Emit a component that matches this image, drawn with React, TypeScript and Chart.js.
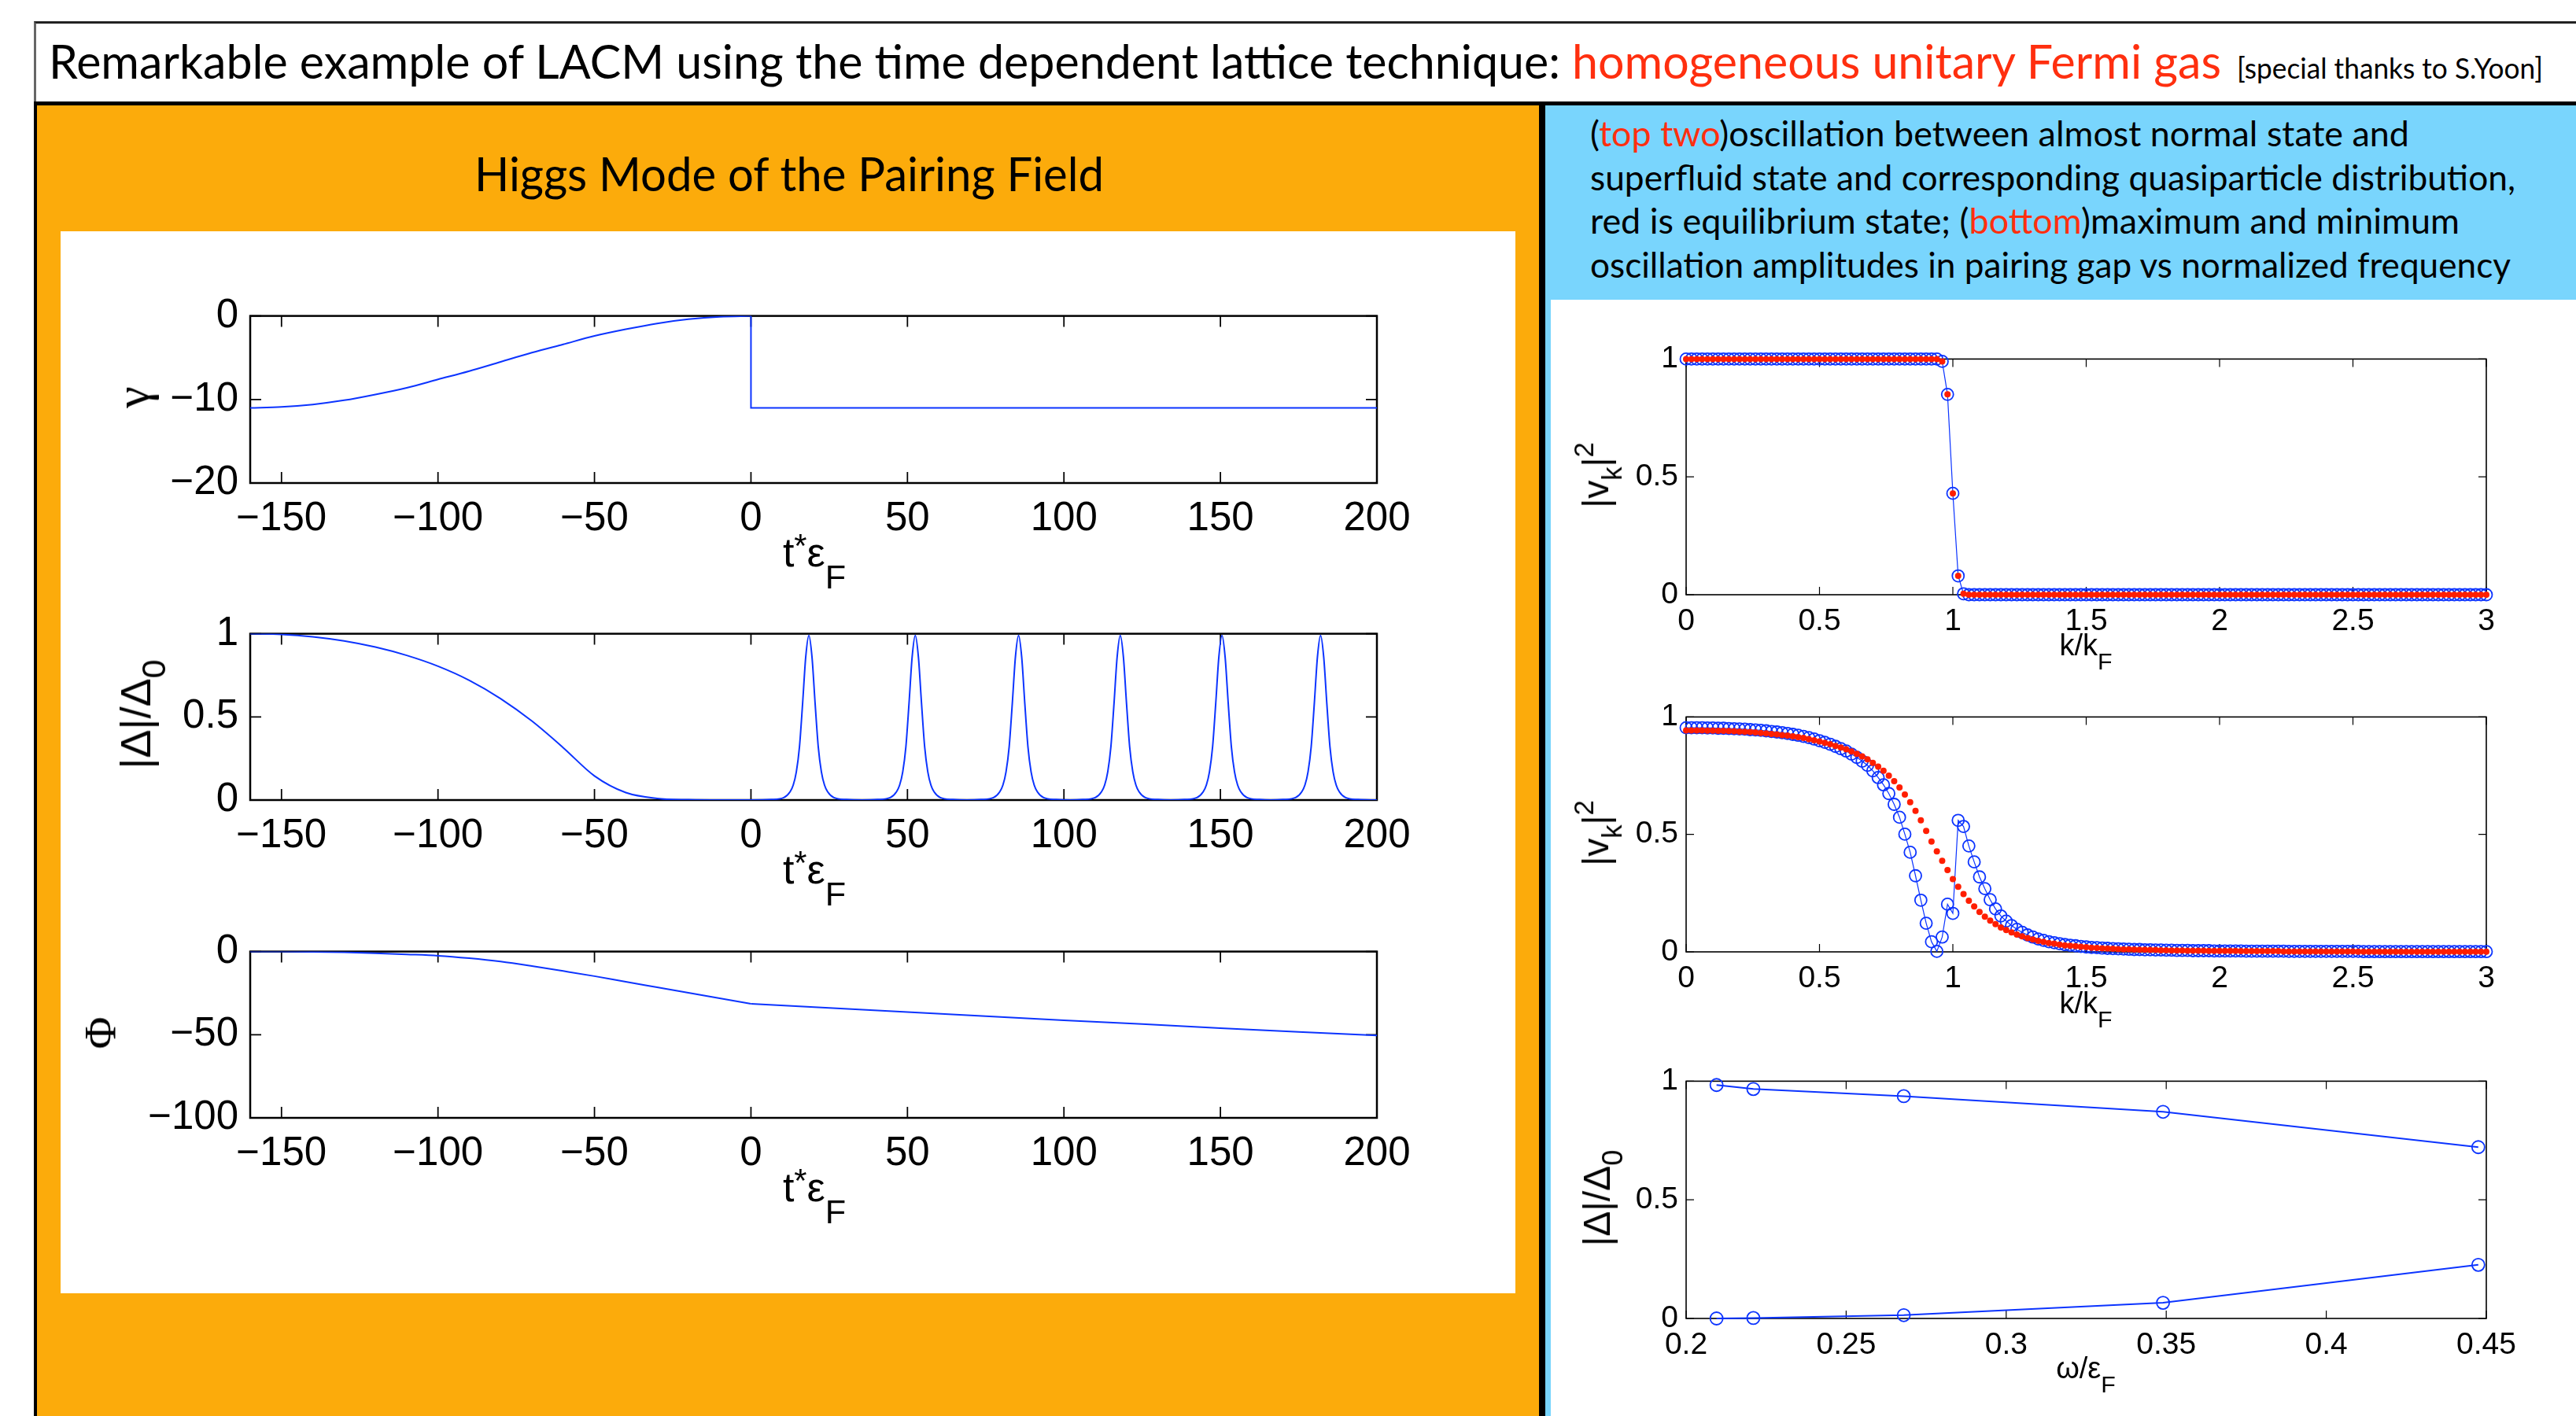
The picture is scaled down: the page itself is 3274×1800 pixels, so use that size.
import React, { useEffect, useLayoutEffect, useRef } from 'react';
import { Chart, registerables } from 'chart.js';
Chart.register(...registerables);

// ---------------- data ----------------
const T_TICKS = [-150, -100, -50, 0, 50, 100, 150, 200];

const GAMMA_T = [-160, -150, -140, -130, -120, -110, -100, -90, -80, -70, -60, -50, -40, -30, -20, -10, 0];
const GAMMA_V = [-11, -10.9, -10.6, -10.1, -9.4, -8.6, -7.6, -6.6, -5.5, -4.4, -3.4, -2.4, -1.6, -0.9, -0.4, -0.1, 0];
const GAMMA_JUMP_T = [0, 0, 200];
const GAMMA_JUMP_V = [0, -11, -11];
const GAMMA_TICKS = [-20, -10, 0];

const DELTA_T = [
  -160, -150, -140, -130, -120, -110, -100, -90, -80, -70, -60, -50, -40, -30, -20, -10, 0,
  6.5, 10.5, 12.5, 13.5, 14.5, 15.5, 16.5, 17.5, 18.5, 19.5, 20.5, 21.5, 22.5, 23.5, 24.5, 26.5, 30.5,
  35.5,
  40.5, 44.5, 46.5, 47.5, 48.5, 49.5, 50.5, 51.5, 52.5, 53.5, 54.5, 55.5, 56.5, 57.5, 58.5, 60.5, 64.5,
  69,
  73.5, 77.5, 79.5, 80.5, 81.5, 82.5, 83.5, 84.5, 85.5, 86.5, 87.5, 88.5, 89.5, 90.5, 91.5, 93.5, 97.5,
  102,
  106, 110, 112, 113, 114, 115, 116, 117, 118, 119, 120, 121, 122, 123, 124, 126, 130,
  134,
  138.5, 142.5, 144.5, 145.5, 146.5, 147.5, 148.5, 149.5, 150.5, 151.5, 152.5, 153.5, 154.5, 155.5, 156.5, 158.5, 162.5,
  166,
  170, 174, 176, 177, 178, 179, 180, 181, 182, 183, 184, 185, 186, 187, 188, 190, 194,
  200,
];
const DELTA_V = [
  1, 0.996, 0.982, 0.957, 0.92, 0.87, 0.805, 0.72, 0.61, 0.475, 0.315, 0.145, 0.045, 0.01, 0.002, 0, 0,
  0.003, 0.015, 0.05, 0.09, 0.17, 0.32, 0.58, 0.86, 0.99, 0.86, 0.58, 0.32, 0.17, 0.09, 0.05, 0.015, 0.003,
  0,
  0.003, 0.015, 0.05, 0.09, 0.17, 0.32, 0.58, 0.86, 0.99, 0.86, 0.58, 0.32, 0.17, 0.09, 0.05, 0.015, 0.003,
  0,
  0.003, 0.015, 0.05, 0.09, 0.17, 0.32, 0.58, 0.86, 0.99, 0.86, 0.58, 0.32, 0.17, 0.09, 0.05, 0.015, 0.003,
  0,
  0.003, 0.015, 0.05, 0.09, 0.17, 0.32, 0.58, 0.86, 0.99, 0.86, 0.58, 0.32, 0.17, 0.09, 0.05, 0.015, 0.003,
  0,
  0.003, 0.015, 0.05, 0.09, 0.17, 0.32, 0.58, 0.86, 0.99, 0.86, 0.58, 0.32, 0.17, 0.09, 0.05, 0.015, 0.003,
  0,
  0.003, 0.015, 0.05, 0.09, 0.17, 0.32, 0.58, 0.86, 0.99, 0.86, 0.58, 0.32, 0.17, 0.09, 0.05, 0.015, 0.003,
  0,
];
const DELTA_TICKS = [0, 0.5, 1];

const PHI_PRE_T = [-160, -150, -140, -130, -120, -110, -100, -90, -80, -70, -60, -50, -40, -30, -20, -10, 0];
const PHI_PRE_V = [0, 0, -0.15, -0.45, -1.0, -1.7, -2.5, -4.0, -6.0, -8.7, -11.7, -14.8, -18.2, -21.5, -24.8, -28.1, -31.4];
const PHI_POST_T = [0, 25, 50, 75, 100, 125, 150, 175, 200];
const PHI_POST_V = [-31.4, -33.9, -36.4, -38.9, -41.3, -43.6, -46.1, -48.3, -50.5];
const PHI_TICKS = [-100, -50, 0];

const K = [
  0, 0.02, 0.04, 0.06, 0.08, 0.1, 0.12, 0.14, 0.16, 0.18,
  0.2, 0.22, 0.24, 0.26, 0.28, 0.3, 0.32, 0.34, 0.36, 0.38,
  0.4, 0.42, 0.44, 0.46, 0.48, 0.5, 0.52, 0.54, 0.56, 0.58,
  0.6, 0.62, 0.64, 0.66, 0.68, 0.7, 0.72, 0.74, 0.76, 0.78,
  0.8, 0.82, 0.84, 0.86, 0.88, 0.9, 0.92, 0.94, 0.96, 0.98,
  1, 1.02, 1.04, 1.06, 1.08, 1.1, 1.12, 1.14, 1.16, 1.18,
  1.2, 1.22, 1.24, 1.26, 1.28, 1.3, 1.32, 1.34, 1.36, 1.38,
  1.4, 1.42, 1.44, 1.46, 1.48, 1.5, 1.52, 1.54, 1.56, 1.58,
  1.6, 1.62, 1.64, 1.66, 1.68, 1.7, 1.72, 1.74, 1.76, 1.78,
  1.8, 1.82, 1.84, 1.86, 1.88, 1.9, 1.92, 1.94, 1.96, 1.98,
  2, 2.02, 2.04, 2.06, 2.08, 2.1, 2.12, 2.14, 2.16, 2.18,
  2.2, 2.22, 2.24, 2.26, 2.28, 2.3, 2.32, 2.34, 2.36, 2.38,
  2.4, 2.42, 2.44, 2.46, 2.48, 2.5, 2.52, 2.54, 2.56, 2.58,
  2.6, 2.62, 2.64, 2.66, 2.68, 2.7, 2.72, 2.74, 2.76, 2.78,
  2.8, 2.82, 2.84, 2.86, 2.88, 2.9, 2.92, 2.94, 2.96, 2.98,
  3,
];
const V_TOP = [
  1, 1, 1, 1, 1, 1, 1, 1, 1, 1,
  1, 1, 1, 1, 1, 1, 1, 1, 1, 1,
  1, 1, 1, 1, 1, 1, 1, 1, 1, 1,
  1, 1, 1, 1, 1, 1, 1, 1, 1, 1,
  1, 1, 1, 1, 1, 1, 1, 1, 0.99, 0.85,
  0.43, 0.08, 0.004, 0, 0, 0, 0, 0, 0, 0,
  0, 0, 0, 0, 0, 0, 0, 0, 0, 0,
  0, 0, 0, 0, 0, 0, 0, 0, 0, 0,
  0, 0, 0, 0, 0, 0, 0, 0, 0, 0,
  0, 0, 0, 0, 0, 0, 0, 0, 0, 0,
  0, 0, 0, 0, 0, 0, 0, 0, 0, 0,
  0, 0, 0, 0, 0, 0, 0, 0, 0, 0,
  0, 0, 0, 0, 0, 0, 0, 0, 0, 0,
  0, 0, 0, 0, 0, 0, 0, 0, 0, 0,
  0, 0, 0, 0, 0, 0, 0, 0, 0, 0,
  0,
];
const V_MID = [
  0.954, 0.954, 0.954, 0.954, 0.953, 0.953, 0.952, 0.952, 0.951, 0.95,
  0.949, 0.948, 0.946, 0.945, 0.943, 0.941, 0.938, 0.936, 0.933, 0.93,
  0.926, 0.922, 0.917, 0.912, 0.906, 0.899, 0.892, 0.884, 0.875, 0.865,
  0.855, 0.842, 0.828, 0.812, 0.794, 0.771, 0.742, 0.711, 0.674, 0.628,
  0.573, 0.501, 0.424, 0.324, 0.22, 0.122, 0.043, 0.002, 0.063, 0.203,
  0.164, 0.56, 0.534, 0.451, 0.383, 0.319, 0.269, 0.222, 0.183, 0.153,
  0.131, 0.112, 0.096, 0.083, 0.072, 0.063, 0.055, 0.049, 0.043, 0.039,
  0.035, 0.031, 0.028, 0.026, 0.023, 0.021, 0.019, 0.018, 0.016, 0.015,
  0.014, 0.013, 0.012, 0.011, 0.01, 0.01, 0.009, 0.009, 0.008, 0.008,
  0.007, 0.007, 0.006, 0.006, 0.006, 0.005, 0.005, 0.005, 0.005, 0.004,
  0.004, 0.004, 0.004, 0.004, 0.004, 0.003, 0.003, 0.003, 0.003, 0.003,
  0.003, 0.003, 0.003, 0.002, 0.002, 0.002, 0.002, 0.002, 0.002, 0.002,
  0.002, 0.002, 0.002, 0.002, 0.002, 0.002, 0.002, 0.001, 0.001, 0.001,
  0.001, 0.001, 0.001, 0.001, 0.001, 0.001, 0.001, 0.001, 0.001, 0.001,
  0.001, 0.001, 0.001, 0.001, 0.001, 0.001, 0.001, 0.001, 0.001, 0.001,
  0.001,
];
const V_MID_EQ = [
  0.943, 0.943, 0.943, 0.943, 0.942, 0.942, 0.941, 0.941, 0.94, 0.939,
  0.938, 0.937, 0.936, 0.934, 0.932, 0.93, 0.928, 0.926, 0.923, 0.921,
  0.918, 0.914, 0.911, 0.906, 0.901, 0.896, 0.89, 0.884, 0.877, 0.87,
  0.862, 0.853, 0.843, 0.832, 0.82, 0.805, 0.789, 0.771, 0.75, 0.727,
  0.7, 0.67, 0.637, 0.6, 0.56, 0.515, 0.47, 0.428, 0.388, 0.348,
  0.31, 0.277, 0.246, 0.218, 0.193, 0.17, 0.15, 0.133, 0.118, 0.104,
  0.093, 0.083, 0.074, 0.066, 0.059, 0.053, 0.047, 0.043, 0.038, 0.035,
  0.031, 0.028, 0.026, 0.024, 0.022, 0.02, 0.018, 0.017, 0.015, 0.014,
  0.013, 0.012, 0.011, 0.011, 0.01, 0.009, 0.009, 0.008, 0.008, 0.007,
  0.007, 0.006, 0.006, 0.006, 0.005, 0.005, 0.005, 0.005, 0.004, 0.004,
  0.004, 0.004, 0.004, 0.004, 0.003, 0.003, 0.003, 0.003, 0.003, 0.003,
  0.003, 0.003, 0.002, 0.002, 0.002, 0.002, 0.002, 0.002, 0.002, 0.002,
  0.002, 0.002, 0.002, 0.002, 0.002, 0.002, 0.001, 0.001, 0.001, 0.001,
  0.001, 0.001, 0.001, 0.001, 0.001, 0.001, 0.001, 0.001, 0.001, 0.001,
  0.001, 0.001, 0.001, 0.001, 0.001, 0.001, 0.001, 0.001, 0.001, 0.001,
  0.001,
];
const K_TICKS = [0, 0.5, 1, 1.5, 2, 2.5, 3];
const V_TICKS = [0, 0.5, 1];

const OMEGA = [0.2095, 0.221, 0.268, 0.349, 0.4475];
const AMP_MAX = [0.984, 0.967, 0.937, 0.871, 0.722];
const AMP_MIN = [0.0, 0.002, 0.014, 0.066, 0.226];
const OMEGA_TICKS = [0.2, 0.25, 0.3, 0.35, 0.4, 0.45];

// ---------------- styles ----------------
const BLUE = 'rgb(12,52,255)';
const RED = 'rgb(255,30,0)';
const ORANGE = '#FCAB0B';
const SKY = '#79D5FD';
const TXT_RED = '#FF2F0F';
const SANS = '"Liberation Sans", Arial, sans-serif';
const SERIF = '"Liberation Serif", "DejaVu Serif", serif';
const GILL = 'Lato, "Open Sans", sans-serif';

const xy = (xs: number[], ys: number[]) => xs.map((x, i) => ({ x, y: ys[i] }));

const boxPlugin = {
  id: 'mbox',
  beforeDatasetsDraw(chart: any, _a: any, o: any) {
    const { ctx, chartArea: a, scales } = chart;
    ctx.save();
    ctx.strokeStyle = '#000';
    ctx.lineWidth = o.lw;
    ctx.strokeRect(a.left, a.top, a.right - a.left, a.bottom - a.top);
    ctx.lineWidth = o.tw;
    ctx.beginPath();
    for (const v of o.xTicks) {
      const p = scales.x.getPixelForValue(v);
      ctx.moveTo(p, a.bottom); ctx.lineTo(p, a.bottom - o.tl);
      ctx.moveTo(p, a.top); ctx.lineTo(p, a.top + o.tl);
    }
    for (const v of o.yTicks) {
      const p = scales.y.getPixelForValue(v);
      ctx.moveTo(a.left, p); ctx.lineTo(a.left + o.tl, p);
      ctx.moveTo(a.right, p); ctx.lineTo(a.right - o.tl, p);
    }
    ctx.stroke();
    ctx.restore();
  },
};

type Spec = {
  left: number; top: number; w: number; h: number;
  ml: number; mt: number; mr: number; mb: number;
  datasets: any[];
  xMin: number; xMax: number; yMin: number; yMax: number;
  xTicks: number[]; yTicks: number[];
  fs: number; xPad: number; yPad: number; lw: number; tl: number;
};

function MChart(s: Spec) {
  const ref = useRef<HTMLCanvasElement>(null);
  const W = s.w + s.ml + s.mr;
  const H = s.h + s.mt + s.mb;
  useEffect(() => {
    const fmt = (v: any) => String(v).replace('-', '\u2212');
    const tickFont = { family: SANS, size: s.fs };
    const chart = new Chart(ref.current as HTMLCanvasElement, {
      type: 'line',
      data: { datasets: s.datasets },
      options: {
        animation: false,
        responsive: false,
        maintainAspectRatio: false,
        devicePixelRatio: 1,
        layout: { padding: { left: 0, top: s.mt, right: s.mr, bottom: 0 } },
        plugins: {
          legend: { display: false },
          tooltip: { enabled: false },
          mbox: { lw: s.lw, tw: Math.max(1.2, s.lw * 0.7), tl: s.tl, xTicks: s.xTicks, yTicks: s.yTicks },
        } as any,
        scales: {
          x: {
            type: 'linear', min: s.xMin, max: s.xMax,
            grid: { display: false, drawTicks: false },
            border: { display: false },
            ticks: { font: tickFont, color: '#000', padding: s.xPad, maxRotation: 0, autoSkip: false, callback: fmt },
            afterBuildTicks: (sc: any) => { sc.ticks = s.xTicks.map((v) => ({ value: v })); },
            afterFit: (sc: any) => { sc.height = s.mb; },
          },
          y: {
            type: 'linear', min: s.yMin, max: s.yMax,
            grid: { display: false, drawTicks: false },
            border: { display: false },
            ticks: { font: tickFont, color: '#000', padding: s.yPad, autoSkip: false, callback: fmt },
            afterBuildTicks: (sc: any) => { sc.ticks = s.yTicks.map((v) => ({ value: v })); },
            afterFit: (sc: any) => { sc.width = s.ml; },
          },
        } as any,
      },
      plugins: [boxPlugin as any],
    });
    return () => chart.destroy();
  }, []);
  return (
    <canvas
      ref={ref}
      width={W}
      height={H}
      style={{ position: 'absolute', left: s.left - s.ml, top: s.top - s.mt, width: W, height: H }}
    />
  );
}

function FitText({ left, baseline, width, size, color = '#000', children }: any) {
  const ref = useRef<HTMLSpanElement>(null);
  useLayoutEffect(() => {
    const fit = () => {
      const el = ref.current;
      if (!el) return;
      el.style.transform = 'none';
      const w = el.getBoundingClientRect().width;
      if (w > 0) el.style.transform = `scaleX(${width / w})`;
    };
    fit();
    (document as any).fonts?.ready?.then(fit);
  });
  return (
    <span
      ref={ref}
      style={{
        position: 'absolute', left, top: baseline - 0.887 * size, fontSize: size, fontFamily: GILL,
        lineHeight: 1, whiteSpace: 'nowrap', transformOrigin: 'left top', color,
      }}
    >
      {children}
    </span>
  );
}

function HLabel({ cx, baseline, size, family = SANS, children }: any) {
  return (
    <div
      style={{
        position: 'absolute', left: cx, top: baseline - 0.8465 * size, transform: 'translateX(-50%)',
        fontSize: size, fontFamily: family, lineHeight: 1, whiteSpace: 'nowrap', color: '#000',
      }}
    >
      {children}
    </div>
  );
}

function VLabel({ cx, cy, size, family = SANS, children }: any) {
  return (
    <div
      style={{
        position: 'absolute', left: cx, top: cy, transform: 'translate(-50%,-50%) rotate(-90deg)',
        fontSize: size, fontFamily: family, lineHeight: 1, whiteSpace: 'nowrap', color: '#000',
      }}
    >
      {children}
    </div>
  );
}

const Sub = ({ children, s = 0.8, d = 0.55 }: any) => (
  <span style={{ fontSize: `${s}em`, position: 'relative', top: `${d}em` }}>{children}</span>
);
const Sup = ({ children, s = 0.8, d = -0.5 }: any) => (
  <span style={{ fontSize: `${s}em`, position: 'relative', top: `${d}em` }}>{children}</span>
);

const lineDs = (xs: number[], ys: number[], mono = true) => ({
  data: xy(xs, ys), borderColor: BLUE, borderWidth: 2, pointRadius: 0,
  cubicInterpolationMode: mono ? 'monotone' : 'default', tension: 0,
});

const circleDs = (xs: number[], ys: number[], r: number, lw: number) => ({
  data: xy(xs, ys), borderColor: BLUE, borderWidth: lw, pointRadius: r, pointBorderWidth: 1.8,
  pointBorderColor: BLUE, pointBackgroundColor: 'rgba(0,0,0,0)', pointStyle: 'circle', clip: false, order: 1,
});

const dotDs = (xs: number[], ys: number[]) => ({
  data: xy(xs, ys), showLine: false, pointRadius: 4, pointBorderWidth: 0,
  pointBackgroundColor: RED, pointBorderColor: RED, clip: false, order: 0,
});

const LEFT = { left: 318, w: 1432, ml: 200, mt: 40, mr: 70, mb: 90, xMin: -160, xMax: 200, xTicks: T_TICKS, fs: 51, xPad: 15, yPad: 15, lw: 2.5, tl: 14 };
const RIGHT = { left: 2143, w: 1017, ml: 150, mt: 30, mr: 60, mb: 60, fs: 39, xPad: 11, yPad: 10, lw: 1.6, tl: 10 };

const TLabel = ({ baseline }: any) => (
  <HLabel cx={1035} baseline={baseline} size={52}>
    t<Sup s={0.8} d={-0.3}>*</Sup>ε<Sub s={0.83} d={0.65}>F</Sub>
  </HLabel>
);

export default function App() {
  return (
    <div style={{ position: 'absolute', left: 0, top: 0, width: 3274, height: 1800, overflow: 'hidden', background: '#fff' }}>
      {/* frames */}
      <div style={{ position: 'absolute', left: 43, top: 27, width: 3231, height: 102, background: '#fff', borderTop: '3px solid #222', borderLeft: '3px solid #666', boxSizing: 'border-box' }} />
      <div style={{ position: 'absolute', left: 43, top: 129, width: 3231, height: 5, background: '#000' }} />
      <div style={{ position: 'absolute', left: 47, top: 134, width: 1909, height: 1666, background: ORANGE }} />
      <div style={{ position: 'absolute', left: 43, top: 129, width: 4, height: 1671, background: '#000' }} />
      <div style={{ position: 'absolute', left: 1956, top: 129, width: 8, height: 1671, background: '#000' }} />
      <div style={{ position: 'absolute', left: 1964, top: 134, width: 1310, height: 1666, background: SKY }} />
      <div style={{ position: 'absolute', left: 1971, top: 381, width: 1303, height: 1419, background: '#fff' }} />
      <div style={{ position: 'absolute', left: 77, top: 294, width: 1849, height: 1350, background: '#fff' }} />

      {/* title */}
      <FitText left={62} baseline={100} width={1921} size={60}>
        Remarkable example of LACM using the time dependent lattice technique:
      </FitText>
      <FitText left={1998} baseline={100} width={825} size={60} color={TXT_RED}>
        homogeneous unitary Fermi gas
      </FitText>
      <FitText left={2843} baseline={100} width={389} size={36}>
        [special thanks to S.Yoon]
      </FitText>

      <FitText left={603} baseline={243} width={800} size={60}>
        Higgs Mode of the Pairing Field
      </FitText>

      <FitText left={2021} baseline={186} width={1041} size={44}>
        (<span style={{ color: TXT_RED }}>top two</span>)oscillation between almost normal state and
      </FitText>
      <FitText left={2021} baseline={242} width={1176} size={44}>
        superfluid state and corresponding quasiparticle distribution,
      </FitText>
      <FitText left={2021} baseline={297} width={1105} size={44}>
        red is equilibrium state; (<span style={{ color: TXT_RED }}>bottom</span>)maximum and minimum
      </FitText>
      <FitText left={2021} baseline={353} width={1170} size={44}>
        oscillation amplitudes in pairing gap vs normalized frequency
      </FitText>

      {/* left charts */}
      <MChart {...LEFT} top={396} h={218} yMin={-20} yMax={0} yTicks={GAMMA_TICKS}
        datasets={[lineDs(GAMMA_T, GAMMA_V), lineDs(GAMMA_JUMP_T, GAMMA_JUMP_V, false)]} />
      <MChart {...LEFT} top={800} h={217} yMin={0} yMax={1} yTicks={DELTA_TICKS}
        datasets={[lineDs(DELTA_T, DELTA_V)]} />
      <MChart {...LEFT} top={1204} h={217} yMin={-100} yMax={0} yTicks={PHI_TICKS}
        datasets={[lineDs(PHI_PRE_T, PHI_PRE_V), lineDs(PHI_POST_T, PHI_POST_V, false)]} />

      <TLabel baseline={720} />
      <TLabel baseline={1123} />
      <TLabel baseline={1527} />
      <VLabel cx={168} cy={505} size={62} family={SERIF}>γ</VLabel>
      <VLabel cx={172} cy={908} size={54}>|Δ|/Δ<Sub s={0.8} d={0.45}>0</Sub></VLabel>
      <VLabel cx={128} cy={1313} size={56} family={SERIF}>Φ</VLabel>

      {/* right charts */}
      <MChart {...RIGHT} top={453} h={303} xMin={0} xMax={3} yMin={0} yMax={1} xTicks={K_TICKS} yTicks={V_TICKS}
        datasets={[dotDs(K, V_TOP), circleDs(K, V_TOP, 7.5, 1.2)]} />
      <MChart {...RIGHT} top={908} h={302} xMin={0} xMax={3} yMin={0} yMax={1} xTicks={K_TICKS} yTicks={V_TICKS}
        datasets={[dotDs(K, V_MID_EQ), circleDs(K, V_MID, 7.5, 1.2)]} />
      <MChart {...RIGHT} top={1371} h={305} xMin={0.2} xMax={0.45} yMin={0} yMax={1} xTicks={OMEGA_TICKS} yTicks={V_TICKS}
        datasets={[circleDs(OMEGA, AMP_MAX, 8, 2), circleDs(OMEGA, AMP_MIN, 8, 2)]} />

      <VLabel cx={2028} cy={604} size={46}>|v<Sub s={0.75} d={0.5}>k</Sub>|<Sup s={0.75} d={-0.55}>2</Sup></VLabel>
      <VLabel cx={2028} cy={1059} size={46}>|v<Sub s={0.75} d={0.5}>k</Sub>|<Sup s={0.75} d={-0.55}>2</Sup></VLabel>
      <VLabel cx={2030} cy={1523} size={48}>|Δ|/Δ<Sub s={0.75} d={0.45}>0</Sub></VLabel>

      <HLabel cx={2651} baseline={833} size={38}>k/k<Sub s={0.8} d={0.6}>F</Sub></HLabel>
      <HLabel cx={2651} baseline={1288} size={38}>k/k<Sub s={0.8} d={0.6}>F</Sub></HLabel>
      <HLabel cx={2651} baseline={1752} size={38}>ω/ε<Sub s={0.8} d={0.6}>F</Sub></HLabel>
    </div>
  );
}
